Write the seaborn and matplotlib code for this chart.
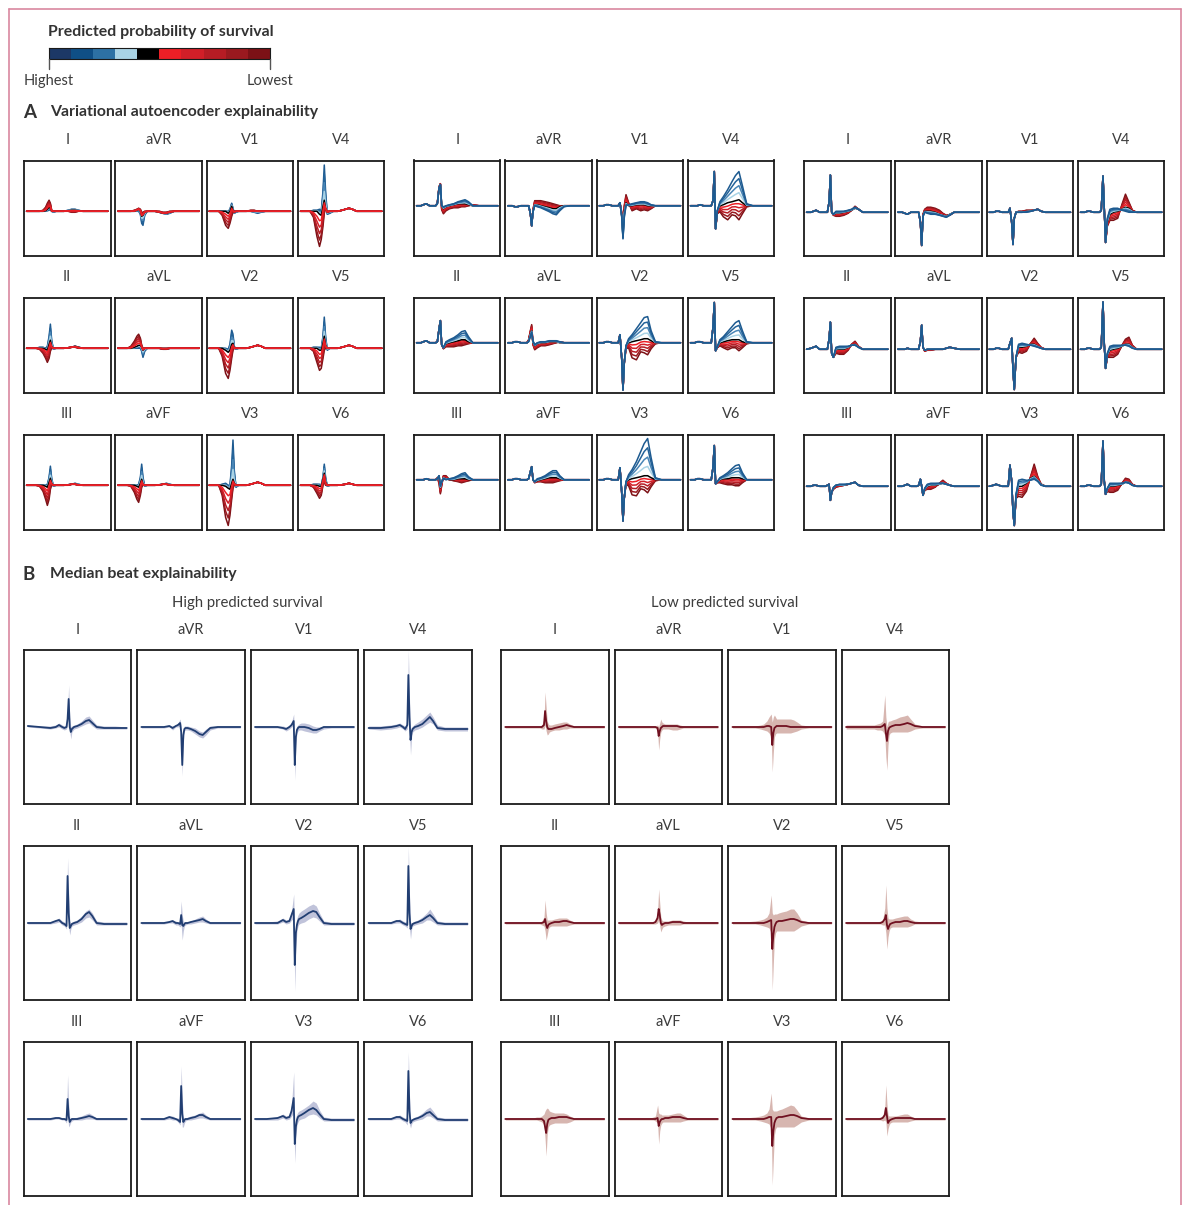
import numpy as np
import pandas as pd
import matplotlib
matplotlib.use("Agg")
import matplotlib.pyplot as plt
import seaborn as sns
from matplotlib.colors import ListedColormap
from matplotlib.lines import Line2D

sns.set_theme(style="white")
plt.rcParams["font.family"] = ["Lato", "DejaVu Sans"]

W, H = 1187, 1205

LEADS = [["I", "aVR", "V1", "V4"],
         ["II", "aVL", "V2", "V5"],
         ["III", "aVF", "V3", "V6"]]

# colour scale, highest -> lowest predicted survival
survival_colors = ["#1c3866", "#0f4f86", "#2d71a4", "#a9d3e5", "#000000",
                   "#ec1f26", "#d21f28", "#b61c24", "#9a191f", "#7c1116"]
# the same scale as it shows on the traces
trace_colors = ["#1d5a90", "#246399", "#4a86b6", "#a9d3e5", "#000000",
                "#ec1f26", "#d21f28", "#b61c24", "#9a191f", "#7c1116"]
# position of each coloured trace between the black trace and the extreme one
fan_weights = [1.0, 0.75, 0.5, 0.25, 0.0, 0.2, 0.4, 0.6, 0.8, 1.0]

# ---------------- panel A: VAE latent traversals (px above baseline) ----------------
vae_t = [3, 8, 11, 14, 18, 22, 25, 27, 29, 30.5, 32, 34, 37, 41, 46, 51, 55, 59, 63, 68, 75, 85, 97]

vae1_hi = {
    "I":   [0,0,0,0,0,0,0,0.5,1,2,0,-1,0,0,0,1,2,2,1,0,0,0,0],
    "aVR": [0,0,0,0,0,0,0,0,-3,-12,-14,-4,0,0,0,-1,-2,-3,-2,0,0,0,0],
    "V1":  [0,0,0,0,0,0,0,2,8,3,-2,-1,0,0,0,0,-1,-2,-1,0,0,0,0],
    "V4":  [0,0,0,0,1,1,2,0,20,46,20,-3,-2,0,0,1,2,3,2,0,0,0,0],
    "II":  [0,0,0,0,1,1,0,2,12,24,8,-1,0,0,0,0.5,1,2,1,0,0,0,0],
    "aVL": [0,0,0,0,0,0,0,0,0,-3,-9,-3,0,0,0,0,-1,-1,0,0,0,0,0],
    "V2":  [0,0,0,0,0,0,-1,4,18,14,2,-1,0,0,0,1,2,3,2,0,0,0,0],
    "V5":  [0,0,0,0,1,1,1,0,12,31,12,-2,0,0,0,1,2,3,2,0,0,0,0],
    "III": [0,0,0,0,0,0,0,1,8,19,7,-1,0,0,0,0.5,1,2,1,0,0,0,0],
    "aVF": [0,0,0,0,0,0,0,1,8,21,8,-1,0,0,0,0.5,1,2,1,0,0,0,0],
    "V3":  [0,0,0,0,1,2,0,0,20,45,15,-2,0,0,0,1,2,3,2,0,0,0,0],
    "V6":  [0,0,0,0,1,1,1,0,8,21,8,-1,0,0,0,0.5,1,2,1,0,0,0,0],
}
vae1_mid = {
    "I":   [0,0,0,0,0,0,0.5,2,4,3,0,0,0,0,0,0.5,1,1,0.5,0,0,0,0],
    "aVR": [0,0,0,0,0,0,1,2,0,-5,-4,-1,0,0,0,-1,-2,-2,-1,0,0,0,0],
    "V1":  [0,0,0,0,0,0,-2,0,5,1,-1,0,0,0,0,0,0,0,0,0,0,0,0],
    "V4":  [0,0,0,0,0,0,-3,-4,5,11,3,-1,0,0,0,1,2,3,2,0,0,0,0],
    "II":  [0,0,0,0,0,0,-1,-2,4,8,2,0,0,0,0,0.5,1,2,1,0,0,0,0],
    "aVL": [0,0,0,0,0,1,2,3,3,1,-2,0,0,0,0,0,0,0,0,0,0,0,0],
    "V2":  [0,0,0,0,0,-2,-4,-2,4,5,0,0,0,0,0,1,2,3,2,0,0,0,0],
    "V5":  [0,0,0,0,0,0,-2,-2,5,12,3,0,0,0,0,1,2,3,2,0,0,0,0],
    "III": [0,0,0,0,0,0,-1,-2,3,7,2,0,0,0,0,0.5,1,1,0.5,0,0,0,0],
    "aVF": [0,0,0,0,0,0,-1,-2,2,6,1,0,0,0,0,0.5,1,1,0.5,0,0,0,0],
    "V3":  [0,0,0,0,0,-1,-3,-4,2,6,2,0,0,0,0,1,2,3,2,0,0,0,0],
    "V6":  [0,0,0,0,0,0,-1,-1,6,12,3,0,0,0,0,0.5,1,2,1,0,0,0,0],
}
vae1_lo = {
    "I":   [0,0,0,0,0,1,4,8,11,8,1,0,0,0,0,0,-1,-1,0,0,0,0,0],
    "aVR": [0,0,0,0,0,1,2,3,2,-1,-1,0,0,0,0,0,-1,-1,0,0,0,0,0],
    "V1":  [0,0,0,0,-4,-14,-17,-12,-5,-1,0,0,0,0,0,1,1,0,0,0,0,0,0],
    "V4":  [0,0,0,0,-6,-25,-35,-28,-15,-2,2,0,0,0,0,1,2,3,2,0,0,0,0],
    "II":  [0,0,0,0,-1,-5,-10,-14,-10,-3,0,0,0,0,0,0.5,1,1,0,0,0,0,0],
    "aVL": [0,0,0,0,2,7,12,14,10,3,0,0,0,0,0,0,-1,-1,0,0,0,0,0],
    "V2":  [0,0,0,0,-8,-25,-30,-22,-10,-2,0,0,0,0,0,1,2,3,2,0,0,0,0],
    "V5":  [0,0,0,0,-3,-14,-22,-20,-10,-2,0,0,0,0,0,1,2,3,2,0,0,0,0],
    "III": [0,0,0,0,-1,-6,-14,-20,-14,-4,0,0,0,0,0,0,1,1,0,0,0,0,0],
    "aVF": [0,0,0,0,-1,-7,-14,-17,-10,-2,0,0,0,0,0,0,1,1,0,0,0,0,0],
    "V3":  [0,0,0,0,-10,-32,-40,-30,-14,-3,0,0,0,0,0,1,2,3,2,0,0,0,0],
    "V6":  [0,0,0,0,-2,-8,-13,-10,0,4,0,0,0,0,0,0.5,1,2,1,0,0,0,0],
}

vae2_hi = {
    "I":   [0,0,1,2,0,0,0,2,18,21,0,-1,0,1,2,4,5,6,4,0,0,0,0],
    "aVR": [0,0,-1,-1,0,0,0,0,-8,-20,-6,0,-1,-2,-4,-6,-8,-9,-5,-1,0,0,0],
    "V1":  [0,0,1,1,0,0,0,3,-10,-33,-12,0,1,2,3,4,4,3,1,0,0,0,0],
    "V4":  [0,0,0,1,0,0,0,0,5,34,-23,-5,4,9,16,24,30,34,20,2,0,0,0],
    "II":  [0,0,1,2,0,0,0,1,14,22,-2,-5,1,3,5,8,11,12,6,0,0,0,0],
    "aVL": [0,0,1,1,0,0,0,1,6,10,2,-2,0,1,1,2,2,2,1,0,0,0,0],
    "V2":  [0,0,1,1,0,0,0,8,-15,-47,-20,-3,4,8,14,20,25,26,12,1,0,0,0],
    "V5":  [0,0,1,1,0,0,0,0,15,40,-8,-4,3,6,11,16,20,22,12,1,0,0,0],
    "III": [0,0,0,1,0,0,0,1,4,-6,-2,1,0,1,2,4,6,7,3,0,0,0,0],
    "aVF": [0,0,1,1,0,0,0,1,8,13,0,-2,1,2,4,7,9,9,4,0,0,0,0],
    "V3":  [0,0,1,1,0,0,0,12,-12,-41,-18,-2,5,10,18,28,36,41,22,2,0,0,0],
    "V6":  [0,0,1,1,0,0,0,0,12,34,-4,-2,2,4,7,11,14,15,7,0,0,0,0],
}
vae2_mid = {
    "I":   [0,0,1,2,0,0,0,2,18,21,0,-3,-1,0,1,2,2,2,1,0,0,0,0],
    "aVR": [0,0,-1,-1,0,0,0,0,-8,-20,-6,1,1,0,-1,-2,-3,-3,-1,0,0,0,0],
    "V1":  [0,0,1,1,0,0,0,3,-10,-30,-5,3,0,0,1,1,1,0,0,0,0,0,0],
    "V4":  [0,0,0,1,0,0,0,0,5,34,-23,-5,0,1,3,4,5,6,3,0,0,0,0],
    "II":  [0,0,1,2,0,0,0,1,14,22,-2,-5,-1,0,1,2,3,3,1,0,0,0,0],
    "aVL": [0,0,1,1,0,0,0,2,9,12,0,-3,-1,0,0,1,1,1,0,0,0,0,0],
    "V2":  [0,0,1,1,0,0,0,8,-15,-47,-20,-3,0,1,2,3,4,4,2,0,0,0,0],
    "V5":  [0,0,1,1,0,0,0,0,15,40,-8,-4,0,1,2,3,3,3,1,0,0,0,0],
    "III": [0,0,0,1,0,0,0,1,4,-8,-2,2,1,0,0,1,1,1,0,0,0,0,0],
    "aVF": [0,0,1,1,0,0,0,1,8,13,0,-2,-1,0,1,2,2,2,1,0,0,0,0],
    "V3":  [0,0,1,1,0,0,0,12,-12,-41,-18,-2,0,1,2,3,4,4,2,0,0,0,0],
    "V6":  [0,0,1,1,0,0,0,0,12,34,-4,-2,0,1,1,2,2,2,1,0,0,0,0],
}
vae2_lo = {
    "I":   [0,0,1,2,0,0,0,3,19,22,-4,-8,-5,-3,-2,-2,-1,-1,0,1,0,0,0],
    "aVR": [0,0,-1,-1,0,0,0,0,-8,-20,-4,5,5,5,4,3,2,1,0,0,0,0,0],
    "V1":  [0,0,1,1,0,0,0,3,-6,-20,0,11,3,-5,-3,-5,-4,-5,-3,0,0,0,0],
    "V4":  [0,0,0,1,0,0,0,0,5,34,-23,-8,-6,-11,-14,-9,-10,-14,-8,-1,0,0,0],
    "II":  [0,0,1,2,0,0,0,1,14,22,-2,-6,-4,-4,-4,-3,-3,-2,-1,0,0,0,0],
    "aVL": [0,0,1,1,0,0,0,3,12,18,-2,-7,-5,-3,-3,-2,-1,0,1,0,0,0,0],
    "V2":  [0,0,1,1,0,0,0,8,-15,-47,-20,-6,-5,-15,-17,-9,-10,-12,-6,-1,0,0,0],
    "V5":  [0,0,1,1,0,0,0,0,15,40,-8,-5,-3,-5,-7,-5,-5,-8,-5,-1,0,0,0],
    "III": [0,0,0,1,0,0,0,2,-4,-14,-6,4,4,0,-1,-2,-3,-2,-1,0,0,0,0],
    "aVF": [0,0,1,1,0,0,0,1,8,13,0,-3,-2,-2,-3,-3,-3,-2,-1,0,0,0,0],
    "V3":  [0,0,1,1,0,0,0,12,-12,-41,-18,-5,-6,-15,-16,-9,-10,-13,-7,-1,0,0,0],
    "V6":  [0,0,1,1,0,0,0,0,12,34,-4,-3,-3,-4,-5,-5,-6,-6,-3,0,0,0,0],
}

vae3_hi = {
    "I":   [0,0,1,2,0,0,0,0,10,37,0,-2,1,1,1,2,3,5,3,0,0,0,0],
    "aVR": [0,0,-1,-2,0,0,0,0,-10,-33,-4,0,-1,-2,-2,-3,-4,-5,-3,0,0,0,0],
    "V1":  [0,0,1,1,0,0,0,4,-10,-32,-6,0,0,0,0,1,2,3,1,0,0,0,0],
    "V4":  [0,0,1,1,0,0,0,2,36,3,-30,-6,3,4,4,2,1,0,0,0,0,0,0],
    "II":  [0,1,2,3,0,0,0,0,10,27,-4,-8,2,3,3,3,4,4,2,0,0,0,0],
    "aVL": [0,0,0,1,0,0,0,0,8,24,2,-1,0,0,0,0,0,1,2,1,0,0,0],
    "V2":  [0,0,1,1,0,0,0,6,11,-20,-40,-8,5,6,5,4,3,2,1,0,0,0,0],
    "V5":  [0,0,1,1,0,0,0,2,47,5,-19,-4,3,4,4,4,4,3,1,0,0,0,0],
    "III": [0,0,1,1,0,0,0,1,2,-14,-6,-1,1,2,2,2,3,4,1,0,0,0,0],
    "aVF": [0,0,1,2,0,0,0,1,7,0,-9,-2,2,3,3,3,3,2,1,0,0,0,0],
    "V3":  [0,1,2,1,0,0,0,21,5,-25,-39,-8,6,7,6,6,7,5,1,0,0,0,0],
    "V6":  [0,0,1,1,0,0,0,2,45,5,-8,-2,3,3,3,3,4,3,1,0,0,0,0],
}
vae3_mid = {
    "I":   [0,0,1,2,0,0,0,0,10,37,0,-2,-1,-1,0,1,2,4,3,0,0,0,0],
    "aVR": [0,0,-1,-2,0,0,0,0,-10,-33,-4,1,1,1,0,-2,-3,-4,-2,0,0,0,0],
    "V1":  [0,0,1,1,0,0,0,4,-10,-32,-6,0,0,0,1,1,2,3,1,0,0,0,0],
    "V4":  [0,0,1,1,0,0,0,2,36,3,-30,-10,-2,0,1,3,5,4,1,0,0,0,0],
    "II":  [0,1,2,3,0,0,0,0,10,27,-4,-8,0,0,0,2,4,5,2,0,0,0,0],
    "aVL": [0,0,0,1,0,0,0,0,8,24,2,-1,0,0,0,0,0,1,2,1,0,0,0],
    "V2":  [0,0,1,1,0,0,0,6,11,-20,-40,-8,2,2,3,5,5,3,1,0,0,0,0],
    "V5":  [0,0,1,1,0,0,0,2,47,5,-19,-6,-1,0,1,3,5,5,2,0,0,0,0],
    "III": [0,0,1,1,0,0,0,1,2,-14,-6,-2,1,1,1,2,3,4,1,0,0,0,0],
    "aVF": [0,0,1,2,0,0,0,1,7,0,-9,-3,0,1,1,2,3,2,1,0,0,0,0],
    "V3":  [0,1,2,1,0,0,0,21,5,-25,-39,-10,0,0,3,8,10,6,2,0,0,0,0],
    "V6":  [0,0,1,1,0,0,0,2,45,5,-8,-3,0,0,1,2,4,4,1,0,0,0,0],
}
vae3_lo = {
    "I":   [0,0,1,2,0,0,0,0,10,37,0,-3,-4,-4,-3,-1,2,6,3,0,0,0,0],
    "aVR": [0,0,-1,-2,0,0,0,0,-10,-33,-2,3,5,5,4,2,-1,-3,-3,0,0,0,0],
    "V1":  [0,0,1,1,0,0,0,4,-10,-32,-6,0,1,1,2,2,2,3,1,0,0,0,0],
    "V4":  [0,0,1,1,0,0,0,2,36,3,-30,-14,-8,-8,-6,8,18,10,2,0,0,0,0],
    "II":  [0,1,2,3,0,0,0,0,10,27,-4,-8,-4,-5,-5,-1,5,8,3,0,0,0,0],
    "aVL": [0,0,0,1,0,0,0,0,8,24,2,-2,-1,-1,0,0,0,1,2,1,0,0,0],
    "V2":  [0,0,1,1,0,0,0,6,11,-20,-40,-8,-3,-4,-2,6,11,6,2,0,0,0,0],
    "V5":  [0,0,1,1,0,0,0,2,47,5,-19,-8,-8,-8,-5,4,10,12,4,0,0,0,0],
    "III": [0,0,1,1,0,0,0,1,2,-14,-6,-3,-1,0,1,2,3,4,1,0,0,0,0],
    "aVF": [0,0,1,2,0,0,0,1,7,0,-9,-4,-3,-3,-1,3,6,3,1,0,0,0,0],
    "V3":  [0,1,2,1,0,0,0,21,5,-25,-39,-12,-10,-11,-5,10,22,10,2,0,0,0,0],
    "V6":  [0,0,1,1,0,0,0,2,45,5,-8,-5,-6,-6,-4,3,8,7,2,0,0,0,0],
}

# ---------------- panel B: median beats with spread (px above baseline) ----------------
beat_t = [4, 15, 25, 30, 33, 36, 38, 40, 41, 42, 43, 44, 45, 47, 50, 54, 58, 61, 64, 68, 75, 85, 96]

high_med = {
    "I":   [1,0,-1,0,2,0,-1,0,8,28,0,-5,-2,0,1,3,6,7,4,0,-1,-1,-1],
    "aVR": [0,0,0,1,-1,1,2,4,-5,-38,-8,-2,-1,-1,-2,-4,-7,-8,-5,-1,0,0,0],
    "V1":  [0,0,0,-1,-2,0,2,6,-38,-10,-3,-1,0,0,0,-1,-3,-3,-2,0,0,0,0],
    "V4":  [-1,-1,0,1,2,0,-2,2,52,10,-13,-5,-2,0,1,3,7,10,6,-1,-2,-2,-2],
    "II":  [0,0,0,2,3,0,-1,-3,47,10,-5,-3,-1,0,1,4,9,11,7,0,-1,-1,-1],
    "aVL": [0,0,0,1,2,0,0,-1,8,-2,-3,-1,0,0,1,2,3,4,2,0,0,0,0],
    "V2":  [0,0,0,3,1,2,8,14,-42,-10,-2,2,4,5,7,10,12,11,6,0,-1,-1,-1],
    "V5":  [0,0,0,2,2,0,-1,-2,57,10,-6,-3,-1,0,1,3,6,8,5,0,-1,-1,-1],
    "III": [0,0,0,1,1,0,0,-1,20,3,-3,-1,0,0,0,1,2,3,2,0,0,0,0],
    "aVF": [0,0,0,2,1,0,-1,-3,33,5,-3,-1,0,0,1,2,4,4,2,0,0,0,0],
    "V3":  [0,0,1,3,1,2,8,21,-25,-8,-1,2,3,4,6,9,11,9,5,0,-1,-1,-1],
    "V6":  [0,0,0,2,2,0,-1,-2,48,8,-4,-2,-1,0,1,3,6,7,4,0,-1,-1,-1],
}
high_up = {
    "I":   [2,1,1,2,4,2,1,2,14,42,10,0,1,2,3,6,10,11,7,2,1,1,0],
    "aVR": [1,1,1,2,1,2,4,8,2,-25,-2,1,1,1,0,-1,-4,-5,-2,1,1,1,1],
    "V1":  [1,1,1,1,0,2,5,13,-25,-2,1,2,3,4,4,3,1,0,0,1,1,1,1],
    "V4":  [1,1,2,3,4,2,1,8,77,30,-2,0,1,3,5,8,12,15,10,2,0,0,0],
    "II":  [1,1,1,3,5,2,1,0,65,30,2,0,1,2,3,7,12,14,10,2,1,1,1],
    "aVL": [1,1,1,2,3,2,1,2,22,8,2,1,1,1,2,4,6,7,4,1,1,1,1],
    "V2":  [1,1,2,5,3,4,12,29,-20,0,5,8,10,12,14,17,19,17,10,2,1,1,1],
    "V5":  [1,1,1,3,4,2,1,2,76,30,1,0,1,2,3,6,10,14,9,2,1,1,1],
    "III": [1,1,1,2,2,1,1,2,44,15,1,1,1,1,2,3,5,6,4,1,1,1,1],
    "aVF": [1,1,1,3,3,1,1,1,53,20,2,1,1,2,3,4,6,7,4,1,1,1,1],
    "V3":  [1,1,2,5,3,4,14,47,-10,2,5,7,8,9,11,14,18,16,9,2,1,1,1],
    "V6":  [1,1,1,3,4,2,1,2,67,25,1,0,1,2,3,6,10,12,8,2,1,1,1],
}
high_low = {
    "I":   [0,-1,-2,-1,0,-2,-3,-2,2,12,-4,-12,-5,-2,-1,1,3,4,1,-2,-2,-2,-2],
    "aVR": [-1,-1,-1,0,-3,0,0,1,-12,-49,-14,-4,-3,-3,-4,-7,-10,-11,-8,-3,-1,-1,-1],
    "V1":  [-1,-1,-1,-2,-4,-2,0,2,-53,-18,-6,-4,-3,-3,-4,-5,-6,-6,-4,-2,-1,-1,-1],
    "V4":  [-2,-3,-2,-1,0,-2,-4,-2,30,-5,-28,-10,-5,-3,-2,0,3,5,3,-3,-4,-4,-4],
    "II":  [-1,-1,-1,0,1,-2,-3,-6,25,-3,-12,-6,-3,-2,-1,1,5,6,3,-2,-2,-2,-2],
    "aVL": [-1,-1,-1,0,0,-2,-2,-4,-2,-17,-8,-3,-2,-1,-1,0,1,1,0,-1,-1,-1,-1],
    "V2":  [-1,-1,-1,1,-1,0,3,4,-68,-25,-8,-3,-1,0,1,4,6,5,2,-2,-2,-2,-2],
    "V5":  [-1,-1,-1,0,0,-2,-3,-5,35,-5,-16,-6,-3,-2,-1,0,3,3,1,-2,-2,-2,-2],
    "III": [-1,-1,-1,0,0,-1,-1,-4,5,-8,-6,-3,-2,-1,-1,-1,0,0,0,-1,-1,-1,-1],
    "aVF": [-1,-1,-1,0,-1,-1,-3,-6,15,-8,-8,-4,-2,-1,-1,0,1,1,0,-1,-1,-1,-1],
    "V3":  [-1,-1,-1,1,-1,0,3,6,-44,-18,-6,-3,-1,0,1,4,5,4,1,-2,-2,-2,-2],
    "V6":  [-1,-1,-1,0,0,-2,-3,-6,28,-5,-9,-5,-3,-2,-1,0,3,3,1,-2,-2,-2,-2],
}

low_med = {
    "I":   [0,0,0,0,0,0,0,2,16,6,0,-2,-2,-2,-1,0,1,2,1,0,0,0,0],
    "aVR": [0,0,0,0,0,0,0,-1,-9,-4,-1,0,1,1,1,1,1,0,0,0,0,0,0],
    "V1":  [0,0,0,0,0,1,1,0,-18,-6,-1,0,1,1,1,1,0,0,0,0,0,0,0],
    "V4":  [0,0,0,0,0,0,1,3,-6,-14,-4,-1,0,1,2,2,3,4,3,1,0,0,0],
    "II":  [0,0,0,0,0,0,0,1,4,-2,-5,-2,-1,0,1,1,2,2,1,0,0,0,0],
    "aVL": [0,0,0,0,0,0,1,5,14,8,0,-2,-1,0,0,1,1,1,0,0,0,0,0],
    "V2":  [0,0,0,0,0,1,2,3,-26,-12,-4,-1,1,2,2,3,4,4,3,1,0,0,0],
    "V5":  [0,0,0,0,0,0,1,4,8,-2,-6,-3,-1,0,1,1,2,2,1,0,0,0,0],
    "III": [0,0,0,0,0,0,0,-2,-8,-14,-5,-1,0,1,1,2,2,2,1,0,0,0,0],
    "aVF": [0,0,0,0,0,0,0,1,-7,-3,-1,0,0,1,1,2,2,2,1,0,0,0,0],
    "V3":  [0,0,0,0,0,1,2,2,-27,-12,-4,-1,1,2,2,3,4,4,3,1,0,0,0],
    "V6":  [0,0,0,0,0,0,1,4,11,3,-4,-2,-1,0,1,1,1,1,1,0,0,0,0],
}
low_up = {
    "I":   [1,1,1,1,1,1,2,8,35,20,6,3,2,2,3,4,5,5,3,1,1,1,1],
    "aVR": [1,1,1,1,1,1,1,2,0,4,8,5,4,3,3,3,3,2,1,1,1,1,1],
    "V1":  [1,1,1,2,3,6,10,13,5,10,12,10,8,8,8,8,8,7,5,2,1,1,1],
    "V4":  [2,2,2,2,3,4,6,32,10,0,5,6,6,7,8,10,11,12,8,3,1,1,1],
    "II":  [1,1,1,1,1,1,2,6,23,10,3,3,3,3,4,5,5,5,3,1,1,1,1],
    "aVL": [1,1,1,1,1,1,3,12,34,20,6,3,2,2,2,3,3,3,2,1,1,1,1],
    "V2":  [1,1,2,3,4,6,10,28,10,8,9,9,9,10,11,12,14,14,10,3,1,1,1],
    "V5":  [1,1,1,1,1,2,3,15,38,15,5,4,4,4,5,6,7,7,4,2,1,1,1],
    "III": [1,1,1,1,2,2,3,5,8,10,11,10,8,7,6,6,6,5,3,1,1,1,1],
    "aVF": [1,1,1,1,1,2,3,14,6,5,5,4,4,4,4,5,6,6,4,1,1,1,1],
    "V3":  [1,1,2,3,4,6,10,26,10,8,8,8,8,9,10,12,14,13,9,3,1,1,1],
    "V6":  [1,1,1,1,1,2,3,12,34,15,4,3,3,3,3,4,5,5,3,1,1,1,1],
}
low_low = {
    "I":   [-1,-1,-1,-1,-1,-1,-2,-2,2,-4,-8,-7,-5,-4,-3,-3,-2,-2,-1,-1,-1,-1,-1],
    "aVR": [-1,-1,-1,-1,-1,-1,-1,-4,-23,-12,-5,-3,-2,-2,-2,-3,-3,-2,-1,-1,-1,-1,-1],
    "V1":  [-1,-1,-1,-2,-3,-4,-6,-10,-45,-25,-10,-7,-6,-6,-6,-6,-6,-5,-4,-2,-1,-1,-1],
    "V4":  [-2,-2,-2,-2,-3,-3,-4,-8,-30,-43,-18,-8,-6,-5,-5,-5,-5,-5,-4,-2,-1,-1,-1],
    "II":  [-1,-1,-1,-1,-1,-1,-2,-3,-8,-17,-12,-6,-4,-3,-3,-3,-3,-3,-2,-1,-1,-1,-1],
    "aVL": [-1,-1,-1,-1,-1,-1,-1,0,3,-3,-9,-6,-4,-3,-2,-2,-2,-2,-1,-1,-1,-1,-1],
    "V2":  [-1,-1,-1,-2,-3,-4,-5,-10,-67,-40,-16,-10,-8,-8,-8,-8,-8,-8,-6,-3,-1,-1,-1],
    "V5":  [-1,-1,-1,-1,-1,-1,-2,-2,-10,-26,-14,-8,-5,-4,-4,-4,-4,-4,-3,-1,-1,-1,-1],
    "III": [-1,-1,-1,-1,-1,-2,-3,-6,-20,-37,-15,-8,-6,-5,-4,-4,-4,-4,-3,-1,-1,-1,-1],
    "aVF": [-1,-1,-1,-1,-1,-1,-2,-4,-25,-12,-6,-4,-3,-3,-3,-3,-3,-3,-2,-1,-1,-1,-1],
    "V3":  [-1,-1,-1,-2,-3,-4,-5,-10,-66,-40,-16,-10,-8,-8,-8,-8,-8,-8,-6,-3,-1,-1,-1],
    "V6":  [-1,-1,-1,-1,-1,-1,-2,-1,-3,-17,-10,-6,-4,-3,-3,-3,-3,-3,-2,-1,-1,-1,-1],
}


def rect(x0, y0, w, h):
    return [x0 / W, 1 - (y0 + h) / H, w / W, h / H]


def text_px(x, y, s, **kw):
    fig.text(x / W, 1 - y / H, s, **kw)


def frame(ax, lw=1.3):
    ax.set_xticks([])
    ax.set_yticks([])
    for sp in ax.spines.values():
        sp.set_visible(True)
        sp.set_color("#1a1a1a")
        sp.set_linewidth(lw)


def fan_traces(mid, hi, lo):
    mid, hi, lo = np.asarray(mid, float), np.asarray(hi, float), np.asarray(lo, float)
    rows = []
    for k, w in enumerate(fan_weights):
        end = hi if k < 4 else lo
        for t, v in zip(vae_t, mid + w * (end - mid)):
            rows.append({"t": t, "v": v, "level": k})
    return pd.DataFrame(rows)


fig = plt.figure(figsize=(W / 100, H / 100), dpi=100)
label_kw = dict(ha="center", va="center", fontsize=10.5, color="#3c3c3c")
bold_kw = dict(ha="left", va="center", fontsize=11.4, fontweight="bold", color="#333333")

# pink page border
for xs, ys in [((8.5, 8.5), (8.5, H)), ((8.5, 1180.5), (8.5, 8.5)), ((1180.5, 1180.5), (8.5, H))]:
    fig.add_artist(Line2D([x / W for x in xs], [1 - y / H for y in ys],
                          color="#d9879f", lw=1.2))

# colour key
text_px(48, 32, "Predicted probability of survival", **bold_kw)
cax = fig.add_axes(rect(48.5, 48, 221.5, 11))
sns.heatmap(np.arange(10).reshape(1, -1), cmap=ListedColormap(survival_colors),
            cbar=False, ax=cax, xticklabels=False, yticklabels=False)
frame(cax, lw=0.8)
for x in (48.5, 270):
    fig.add_artist(Line2D([x / W] * 2, [1 - 59 / H, 1 - 69 / H], color="#555555", lw=1.0))
text_px(48.5, 81, "Highest", **label_kw)
text_px(270, 81, "Lowest", **label_kw)

# panel A
text_px(23, 112, "A", ha="left", va="center", fontsize=13.5, fontweight="bold", color="#333333")
text_px(50, 112, "Variational autoencoder explainability", **bold_kw)

vae_groups = [(vae1_mid, vae1_hi, vae1_lo), (vae2_mid, vae2_hi, vae2_lo), (vae3_mid, vae3_hi, vae3_lo)]
vae_ylim = [(-44.5, 50.5), (-50, 45), (-43.5, 51.5)]
vae_order = [[0, 1, 2, 3, 4, 9, 8, 7, 6, 5], list(range(9, -1, -1)), list(range(9, -1, -1))]
palette = {k: c for k, c in enumerate(trace_colors)}

for g, (mid_d, hi_d, lo_d) in enumerate(vae_groups):
    for r, row in enumerate(LEADS):
        for c, lead in enumerate(row):
            x0 = 24 + g * 390 + c * 91.3
            y0 = 160.5 + r * 137
            ax = fig.add_axes(rect(x0, y0, 86.5, 95.5))
            df = fan_traces(mid_d[lead], hi_d[lead], lo_d[lead])
            sns.lineplot(data=df, x="t", y="v", hue="level", hue_order=vae_order[g],
                         palette=palette, estimator=None, sort=False, legend=False,
                         linewidth=1.1, ax=ax)
            ax.set_xlim(0, 100)
            ax.set_ylim(*vae_ylim[g])
            ax.set_xlabel("")
            ax.set_ylabel("")
            frame(ax)
            text_px(x0 + 43.25, y0 - 20.5, lead, **label_kw)

# panel B
text_px(23, 574, "B", ha="left", va="center", fontsize=13.5, fontweight="bold", color="#333333")
text_px(50, 574, "Median beat explainability", **bold_kw)

beat_groups = [("High predicted survival", high_med, high_up, high_low, "#213e72", "#b9bdd6"),
               ("Low predicted survival", low_med, low_up, low_low, "#701020", "#d3aea8")]

for g, (title, med_d, up_d, low_d, line_c, band_c) in enumerate(beat_groups):
    gx = 23.5 + g * 477.5
    text_px(gx + 223.5, 603, title, ha="center", va="center", fontsize=10.7, color="#3c3c3c")
    for r, row in enumerate(LEADS):
        for c, lead in enumerate(row):
            x0 = gx + c * 113.6
            y0 = 649.5 + r * 196
            ax = fig.add_axes(rect(x0, y0, 107.5, 154))
            ax.fill_between(beat_t, low_d[lead], up_d[lead], color=band_c, lw=0, alpha=0.9)
            sns.lineplot(x=beat_t, y=med_d[lead], color=line_c, linewidth=1.3,
                         estimator=None, sort=False, ax=ax)
            ax.set_xlim(0, 100)
            ax.set_ylim(-76.5, 77.5)
            frame(ax)
            text_px(x0 + 53.75, y0 - 19.5, lead, **label_kw)

fig.savefig("out.png", dpi=100, facecolor="white")
